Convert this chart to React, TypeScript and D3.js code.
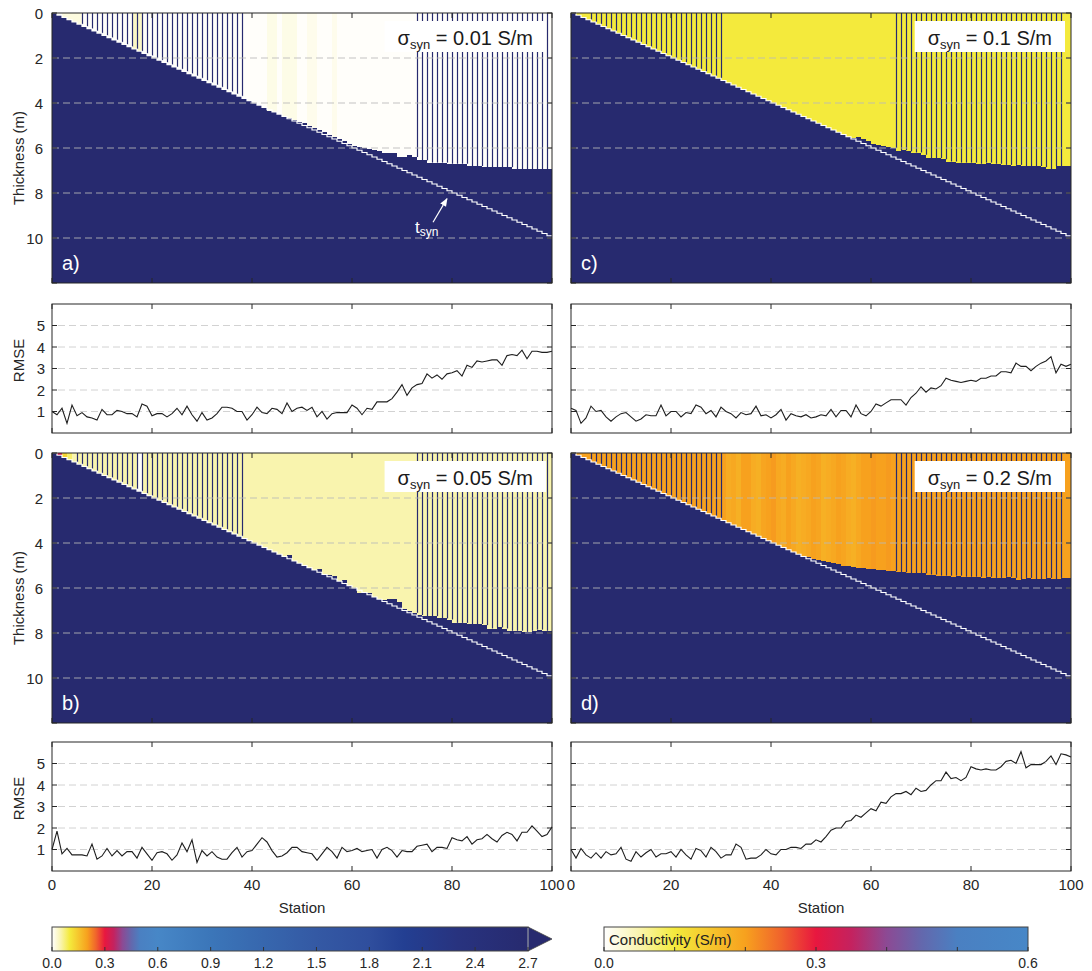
import { useEffect, useRef } from 'react';
import * as d3 from 'd3';

const FONT = '"Liberation Sans", Arial, Helvetica, sans-serif';
const NAVY = '#272a6f';
const INK = '#262626';

// conductivity colour map (S/m)
const cmapStops = [0, 0.05, 0.1, 0.2, 0.25, 0.3, 0.35, 0.4, 0.45, 0.5, 0.6, 0.9, 1.2, 1.5, 1.8, 2.0, 2.3, 2.7];
const cmapColors = ['#ffffff', '#f9f4ae', '#f4ea3c', '#f7a11e', '#f0642c', '#e8173f', '#c4225f', '#8c4a94',
  '#6368ad', '#4a80c2', '#4787c7', '#3b76b9', '#3767ae', '#3459a4', '#2f4e9d', '#233f92', '#28337f', '#272a6f'];

// synthetic layer thickness per station (m)
const tSyn = [
  0, 0.1, 0.2, 0.3, 0.4, 0.5, 0.6, 0.7, 0.8, 0.9,
  1, 1.1, 1.2, 1.3, 1.4, 1.5, 1.6, 1.7, 1.8, 1.9,
  2, 2.1, 2.2, 2.3, 2.4, 2.5, 2.6, 2.7, 2.8, 2.9,
  3, 3.1, 3.2, 3.3, 3.4, 3.5, 3.6, 3.7, 3.8, 3.9,
  4, 4.1, 4.2, 4.3, 4.4, 4.5, 4.6, 4.7, 4.8, 4.9,
  5, 5.1, 5.2, 5.3, 5.4, 5.5, 5.6, 5.7, 5.8, 5.9,
  6, 6.1, 6.2, 6.3, 6.4, 6.5, 6.6, 6.7, 6.8, 6.9,
  7, 7.1, 7.2, 7.3, 7.4, 7.5, 7.6, 7.7, 7.8, 7.9,
  8, 8.1, 8.2, 8.3, 8.4, 8.5, 8.6, 8.7, 8.8, 8.9,
  9, 9.1, 9.2, 9.3, 9.4, 9.5, 9.6, 9.7, 9.8, 9.9,
];

// inverted thickness of the top layer (m)
const thickA = [
  0, 0.1, 0.2, 0.3, 0.4, 0.5, 0.6, 0.7, 0.8, 0.9,
  1, 1.1, 1.2, 1.3, 1.4, 1.5, 1.6, 1.7, 1.8, 1.9,
  2, 2.1, 2.2, 2.3, 2.4, 2.5, 2.6, 2.7, 2.8, 2.9,
  3, 3.1, 3.2, 3.3, 3.4, 3.5, 3.6, 3.7, 3.8, 3.9,
  4, 4.1, 4.2, 4.35, 4.4, 4.5, 4.6, 4.65, 4.75, 4.85,
  4.9, 5, 5.1, 5.2, 5.3, 5.4, 5.5, 5.6, 5.7, 5.8,
  5.9, 5.95, 6, 6.05, 6.1, 6.15, 6.2, 6.2, 6.2, 6.4,
  6.4, 6.3, 6.4, 6.55, 6.55, 6.65, 6.65, 6.65, 6.65, 6.7,
  6.7, 6.7, 6.7, 6.8, 6.8, 6.8, 6.85, 6.85, 6.85, 6.85,
  6.85, 6.85, 6.95, 6.95, 6.95, 6.95, 6.95, 6.95, 6.95, 6.95,
];
const thickB = [
  0, 0.1, 0.2, 0.3, 0.4, 0.5, 0.6, 0.7, 0.8, 0.9,
  1, 1.1, 1.2, 1.3, 1.4, 1.5, 1.6, 1.7, 1.8, 1.9,
  2, 2.1, 2.2, 2.3, 2.4, 2.5, 2.6, 2.7, 2.8, 2.9,
  3, 3.1, 3.2, 3.3, 3.4, 3.5, 3.6, 3.7, 3.8, 3.9,
  4, 4.1, 4.2, 4.3, 4.4, 4.5, 4.6, 4.55, 4.8, 4.9,
  5, 5.1, 5.2, 5.15, 5.4, 5.4, 5.45, 5.7, 5.65, 5.9,
  6, 6.2, 6.2, 6.2, 6.4, 6.5, 6.55, 6.5, 6.5, 6.6,
  6.95, 7, 7.1, 7.2, 7.25, 7.25, 7.25, 7.35, 7.35, 7.4,
  7.55, 7.55, 7.55, 7.6, 7.6, 7.6, 7.65, 7.8, 7.8, 7.75,
  7.8, 7.9, 7.9, 7.9, 7.95, 7.95, 7.9, 7.85, 7.9, 7.9,
];
const thickC = [
  0, 0.1, 0.2, 0.3, 0.4, 0.5, 0.6, 0.7, 0.8, 0.9,
  1, 1.1, 1.2, 1.3, 1.4, 1.5, 1.6, 1.7, 1.8, 1.9,
  2, 2.1, 2.2, 2.3, 2.4, 2.5, 2.6, 2.7, 2.8, 2.9,
  3, 3.1, 3.2, 3.3, 3.4, 3.5, 3.6, 3.7, 3.8, 3.9,
  4, 4.1, 4.2, 4.3, 4.4, 4.5, 4.6, 4.7, 4.8, 4.9,
  5, 5.1, 5.2, 5.3, 5.4, 5.5, 5.55, 5.5, 5.6, 5.7,
  5.8, 5.85, 5.9, 5.95, 6, 6.15, 6.1, 6.15, 6.2, 6.2,
  6.3, 6.45, 6.45, 6.45, 6.5, 6.6, 6.6, 6.65, 6.65, 6.65,
  6.65, 6.7, 6.7, 6.65, 6.7, 6.7, 6.75, 6.75, 6.8, 6.75,
  6.8, 6.8, 6.8, 6.8, 6.85, 6.95, 6.95, 6.8, 6.8, 6.8,
];
const thickD = [
  0, 0.1, 0.2, 0.3, 0.4, 0.5, 0.6, 0.7, 0.8, 0.9,
  1, 1.1, 1.2, 1.3, 1.4, 1.5, 1.6, 1.7, 1.8, 1.9,
  2, 2.1, 2.2, 2.3, 2.4, 2.5, 2.6, 2.7, 2.8, 2.9,
  3, 3.1, 3.2, 3.3, 3.4, 3.5, 3.6, 3.7, 3.8, 3.9,
  4, 4.1, 4.2, 4.3, 4.4, 4.5, 4.6, 4.6, 4.7, 4.75,
  4.8, 4.85, 4.9, 4.95, 5, 5, 5.05, 5.1, 5.1, 5.15,
  5.15, 5.2, 5.2, 5.25, 5.25, 5.3, 5.3, 5.35, 5.35, 5.35,
  5.35, 5.4, 5.4, 5.45, 5.45, 5.45, 5.5, 5.45, 5.5, 5.5,
  5.5, 5.5, 5.55, 5.5, 5.55, 5.55, 5.55, 5.5, 5.55, 5.65,
  5.6, 5.55, 5.6, 5.6, 5.6, 5.55, 5.6, 5.6, 5.55, 5.55,
];

// inverted conductivity of the top layer (S/m)
const condA = [
  0.003, 0.003, 0.02, 0.02, 0.02, 0.02, 0.003, 0.003, 0.003, 0.003,
  0.003, 0.003, 0.003, 0.003, 0.003, 0.003, 0.035, 0.035, 0.003, 0.003,
  0.003, 0.003, 0.003, 0.003, 0.003, 0.003, 0.003, 0.003, 0.003, 0.003,
  0.003, 0.003, 0.003, 0.003, 0.003, 0.003, 0.003, 0.003, 0.003, 0.003,
  0.003, 0.003, 0.003, 0.015, 0.015, 0.003, 0.015, 0.015, 0.015, 0.003,
  0.003, 0.012, 0.012, 0.003, 0.003, 0.003, 0.012, 0.003, 0.003, 0.003,
  0.003, 0.003, 0.003, 0.003, 0.003, 0.003, 0.003, 0.003, 0.003, 0.003,
  0.003, 0.003, 0.003, 0.003, 0.003, 0.003, 0.003, 0.003, 0.003, 0.003,
  0.003, 0.003, 0.003, 0.003, 0.003, 0.003, 0.003, 0.003, 0.003, 0.003,
  0.003, 0.003, 0.003, 0.003, 0.003, 0.003, 0.003, 0.003, 0.003, 0.003,
];
const condB = [
  0.05, 0.32, 0.13, 0.08, 0.05, 0.05, 0.05, 0.05, 0.05, 0.05,
  0.05, 0.05, 0.05, 0.05, 0.05, 0.05, 0.05, 0.004, 0.05, 0.05,
  0.05, 0.05, 0.05, 0.05, 0.05, 0.05, 0.05, 0.05, 0.05, 0.05,
  0.05, 0.05, 0.05, 0.05, 0.05, 0.05, 0.05, 0.05, 0.05, 0.05,
  0.05, 0.05, 0.05, 0.05, 0.05, 0.05, 0.05, 0.05, 0.05, 0.05,
  0.05, 0.05, 0.05, 0.05, 0.05, 0.05, 0.05, 0.05, 0.05, 0.05,
  0.05, 0.05, 0.05, 0.05, 0.05, 0.05, 0.05, 0.05, 0.05, 0.05,
  0.05, 0.05, 0.05, 0.05, 0.05, 0.05, 0.05, 0.05, 0.05, 0.05,
  0.05, 0.05, 0.05, 0.05, 0.05, 0.05, 0.05, 0.05, 0.05, 0.05,
  0.05, 0.05, 0.05, 0.05, 0.05, 0.05, 0.05, 0.05, 0.05, 0.05,
];
const condC = [
  0.1, 0.1, 0.1, 0.1, 0.1, 0.1, 0.1, 0.1, 0.1, 0.1,
  0.1, 0.1, 0.1, 0.1, 0.1, 0.1, 0.1, 0.1, 0.1, 0.1,
  0.1, 0.1, 0.1, 0.1, 0.1, 0.1, 0.1, 0.1, 0.1, 0.1,
  0.1, 0.1, 0.1, 0.1, 0.1, 0.1, 0.1, 0.1, 0.1, 0.1,
  0.1, 0.1, 0.1, 0.1, 0.1, 0.1, 0.1, 0.1, 0.1, 0.1,
  0.1, 0.1, 0.1, 0.1, 0.1, 0.1, 0.1, 0.1, 0.1, 0.1,
  0.1, 0.1, 0.1, 0.1, 0.1, 0.1, 0.1, 0.1, 0.1, 0.1,
  0.1, 0.1, 0.1, 0.1, 0.1, 0.1, 0.1, 0.1, 0.1, 0.1,
  0.1, 0.1, 0.1, 0.1, 0.1, 0.1, 0.1, 0.1, 0.1, 0.1,
  0.1, 0.1, 0.1, 0.1, 0.1, 0.1, 0.1, 0.1, 0.1, 0.1,
];
const condD = [
  0.2, 0.2, 0.2, 0.2, 0.2, 0.2, 0.2, 0.2, 0.2, 0.2,
  0.2, 0.2, 0.2, 0.2, 0.2, 0.2, 0.2, 0.2, 0.2, 0.2,
  0.2, 0.2, 0.2, 0.2, 0.2, 0.2, 0.2, 0.2, 0.2, 0.2,
  0.2, 0.185, 0.19, 0.18, 0.2, 0.2, 0.185, 0.18, 0.195, 0.2,
  0.205, 0.19, 0.185, 0.2, 0.19, 0.18, 0.185, 0.19, 0.2, 0.195,
  0.18, 0.185, 0.19, 0.2, 0.195, 0.185, 0.18, 0.19, 0.2, 0.2,
  0.205, 0.2, 0.2, 0.205, 0.2, 0.2, 0.2, 0.2, 0.2, 0.2,
  0.2, 0.2, 0.2, 0.2, 0.2, 0.2, 0.2, 0.2, 0.2, 0.2,
  0.2, 0.2, 0.2, 0.2, 0.2, 0.2, 0.2, 0.2, 0.2, 0.2,
  0.2, 0.2, 0.2, 0.2, 0.2, 0.2, 0.2, 0.2, 0.2, 0.2,
];

// RMSE per station 0..100
const rmseA = [
  1.0, 0.85, 1.15, 0.45, 1.3, 0.8, 0.95, 0.75, 0.7, 0.6,
  1.1, 0.85, 0.85, 1.05, 1.0, 0.9, 0.9, 0.75, 1.35, 1.25,
  0.8, 0.9, 0.9, 0.75, 0.9, 1.15, 0.85, 1.25, 0.85, 0.55,
  0.95, 0.6, 0.7, 0.9, 1.2, 1.2, 1.15, 1.0, 1.0, 0.6,
  0.85, 1.2, 0.95, 0.9, 1.15, 1.1, 0.9, 1.4, 1.0, 1.15,
  1.2, 1.05, 1.2, 0.75, 1.0, 0.65, 0.9, 0.95, 0.95, 0.95,
  1.3, 1.15, 0.85, 1.15, 1.1, 1.45, 1.45, 1.45, 1.6, 1.9,
  2.25, 1.75, 2.1, 2.25, 2.3, 2.75, 2.55, 2.7, 2.5, 2.75,
  2.8, 2.9, 2.65, 3.15, 3.05, 3.35, 3.3, 3.35, 3.4, 3.4,
  3.15, 3.6, 3.65, 3.6, 3.85, 3.45, 3.8, 3.8, 3.75, 3.75,
  3.8,
];
const rmseB = [
  1.0, 1.85, 0.8, 1.05, 0.75, 0.75, 0.75, 0.7, 1.25, 0.55,
  0.7, 1.05, 0.7, 0.95, 0.7, 0.9, 0.9, 0.6, 1.1, 0.8,
  0.5, 0.85, 0.9, 0.8, 0.5, 0.75, 1.3, 0.9, 1.45, 0.4,
  0.95, 0.7, 0.9, 0.65, 0.55, 0.55, 0.85, 1.1, 0.65, 0.9,
  0.95, 1.25, 1.55, 1.35, 0.95, 0.65, 0.7, 0.85, 1.1, 1.1,
  0.9, 0.85, 0.8, 0.5, 0.8, 1.1, 0.9, 0.6, 1.1, 0.9,
  0.95, 1.05, 0.9, 0.95, 1.0, 0.6, 1.0, 1.1, 0.95, 0.65,
  0.95, 0.9, 0.9, 1.15, 1.2, 1.25, 0.9, 1.1, 1.1, 1.05,
  1.55, 1.45, 1.4, 1.6, 1.25, 1.45, 1.5, 1.7, 1.5, 1.35,
  1.65, 1.8, 1.7, 1.4, 1.8, 1.8, 2.1, 1.85, 1.6, 1.7,
  2.05,
];
const rmseC = [
  1.15, 1.05, 0.45, 0.7, 1.25, 1.0, 1.05, 0.75, 0.55, 0.75,
  0.9, 0.95, 0.75, 0.55, 0.65, 0.85, 0.8, 0.8, 1.3, 0.8,
  1.0, 1.0, 0.75, 0.95, 0.9, 1.3, 1.2, 0.9, 1.05, 0.75,
  1.2, 1.0, 0.9, 0.7, 0.95, 0.85, 0.9, 1.25, 0.8, 0.85,
  0.7, 0.85, 1.1, 0.6, 0.9, 0.8, 0.75, 0.85, 0.7, 0.75,
  0.85, 0.8, 1.1, 0.75, 1.05, 1.05, 0.75, 1.3, 0.9, 0.8,
  1.0, 1.35, 1.25, 1.4, 1.55, 1.55, 1.55, 1.3, 1.65, 1.85,
  2.15, 1.9, 2.1, 2.05, 2.2, 2.55, 2.45, 2.4, 2.35, 2.4,
  2.45, 2.4, 2.55, 2.55, 2.65, 2.65, 2.85, 2.85, 2.8, 3.25,
  3.1, 3.1, 2.9, 3.1, 3.25, 3.35, 3.55, 2.8, 3.2, 3.1,
  3.2,
];
const rmseD = [
  1.0, 0.6, 1.05, 0.75, 0.6, 0.85, 0.6, 0.9, 0.75, 0.8,
  1.1, 0.55, 0.45, 0.9, 0.65, 0.85, 1.0, 0.65, 0.8, 0.8,
  0.9, 0.65, 1.0, 0.75, 0.55, 1.05, 0.95, 0.65, 1.1, 0.9,
  0.6, 0.75, 0.75, 1.25, 1.1, 0.55, 0.6, 0.6, 0.75, 1.0,
  0.8, 0.75, 1.0, 1.0, 1.1, 1.1, 1.05, 1.25, 1.25, 1.45,
  1.35, 1.6, 1.9, 2.0, 2.0, 2.3, 2.35, 2.6, 2.5, 2.7,
  2.9, 2.8, 3.2, 3.15, 3.45, 3.6, 3.6, 3.7, 3.55, 3.85,
  3.7, 3.75, 4.0, 4.2, 4.2, 4.6, 4.3, 4.35, 4.2, 4.35,
  4.85, 4.75, 4.7, 4.75, 4.7, 4.7, 4.85, 5.1, 5.15, 5.0,
  5.55, 4.8, 4.95, 4.95, 4.95, 5.1, 5.35, 4.95, 5.45, 5.4,
  5.3,
];

const thicknessTicks = [0, 2, 4, 6, 8, 10];
const thicknessMinor = [0, 2, 4, 6, 8, 10, 12];
const rmseTicks = [1, 2, 3, 4, 5];
const stationTicks = [0, 20, 40, 60, 80, 100];
const cbMainTicks = [0, 0.3, 0.6, 0.9, 1.2, 1.5, 1.8, 2.1, 2.4, 2.7];
const cbZoomTicks = [0, 0.1, 0.2, 0.3, 0.4, 0.5, 0.6];
const cbZoomLabels = [0, 0.3, 0.6];

// layout
const LEFT = 52;
const RIGHT = 571;
const PW = 500;
const IMG_TOP = [13, 453];
const IMG_H = 270;
const RMSE_TOP = [304, 742];
const RMSE_H = 129;

const panels = [
  { key: 'a', x0: LEFT, row: 0, thick: thickA, cond: condA, rmse: rmseA, sigma: '0.01', gaps: [[6, 38], [73, 99]], yLabels: true },
  { key: 'b', x0: LEFT, row: 1, thick: thickB, cond: condB, rmse: rmseB, sigma: '0.05', gaps: [[5, 38], [73, 99]], yLabels: true },
  { key: 'c', x0: RIGHT, row: 0, thick: thickC, cond: condC, rmse: rmseC, sigma: '0.1', gaps: [[4, 30], [65, 98]], yLabels: false },
  { key: 'd', x0: RIGHT, row: 1, thick: thickD, cond: condD, rmse: rmseD, sigma: '0.2', gaps: [[4, 30], [65, 98]], yLabels: false },
];

const cmap = d3.scaleLinear<string>().domain(cmapStops).range(cmapColors).interpolate(d3.interpolateRgb).clamp(true);

function addTicks(g: any, x0: number, y0: number, w: number, h: number, xs: number[], ys: number[]) {
  xs.forEach(px => {
    g.append('line').attr('x1', px).attr('x2', px).attr('y1', y0).attr('y2', y0 + 5).attr('stroke', INK);
    g.append('line').attr('x1', px).attr('x2', px).attr('y1', y0 + h - 5).attr('y2', y0 + h).attr('stroke', INK);
  });
  ys.forEach(py => {
    g.append('line').attr('x1', x0).attr('x2', x0 + 5).attr('y1', py).attr('y2', py).attr('stroke', INK);
    g.append('line').attr('x1', x0 + w - 5).attr('x2', x0 + w).attr('y1', py).attr('y2', py).attr('stroke', INK);
  });
  g.append('rect').attr('x', x0).attr('y', y0).attr('width', w).attr('height', h)
    .attr('fill', 'none').attr('stroke', INK).attr('stroke-width', 1);
}

function drawSection(svg: any, p: any) {
  const y0 = IMG_TOP[p.row];
  const x = d3.scaleLinear().domain([0, 100]).range([p.x0, p.x0 + PW]);
  const y = d3.scaleLinear().domain([0, 12]).range([y0, y0 + IMG_H]);
  const g = svg.append('g');

  g.append('rect').attr('x', p.x0).attr('y', y0).attr('width', PW).attr('height', IMG_H).attr('fill', NAVY);

  g.selectAll('rect.layer').data(p.thick).join('rect')
    .attr('class', 'layer')
    .attr('x', (d: number, i: number) => x(i))
    .attr('y', y(0))
    .attr('width', x(1) - x(0))
    .attr('height', (d: number) => y(d) - y(0))
    .attr('fill', (d: number, i: number) => cmap(p.cond[i]))
    .attr('shape-rendering', 'crispEdges');

  // thin column seams
  p.gaps.forEach(([a, b]: number[]) => {
    d3.range(a, b + 1).forEach(i => {
      g.append('line')
        .attr('x1', x(i) + 0.5).attr('x2', x(i) + 0.5)
        .attr('y1', y(0)).attr('y2', y(Math.min(p.thick[i], p.thick[i - 1] ?? p.thick[i])))
        .attr('stroke', NAVY).attr('stroke-width', 1.2);
    });
  });

  // true thickness staircase
  let path = `M${x(0)},${y(tSyn[0])}`;
  tSyn.forEach((t, i) => { path += `V${y(t)}H${x(i + 1)}`; });
  g.append('path').attr('d', path).attr('fill', 'none').attr('stroke', '#ffffff').attr('stroke-width', 1.2);

  // dashed grid
  thicknessTicks.filter(t => t > 0).forEach(t => {
    g.append('line').attr('x1', p.x0).attr('x2', p.x0 + PW).attr('y1', y(t)).attr('y2', y(t))
      .attr('stroke', '#b8b8b8').attr('stroke-opacity', 0.85).attr('stroke-dasharray', '7,4');
  });

  addTicks(g, p.x0, y0, PW, IMG_H, stationTicks.map(s => x(s)), thicknessMinor.map(t => y(t)));

  if (p.yLabels) {
    thicknessTicks.forEach(t => {
      g.append('text').attr('x', p.x0 - 9).attr('y', y(t) + 5.5).attr('text-anchor', 'end')
        .attr('font-size', 15).attr('fill', INK).text(t);
    });
    g.append('text')
      .attr('transform', `translate(${p.x0 - 28},${y0 + IMG_H / 2 + 10}) rotate(-90)`)
      .attr('text-anchor', 'middle').attr('font-size', 15).attr('fill', INK).text('Thickness (m)');
  }

  g.append('text').attr('x', p.x0 + 10).attr('y', y0 + IMG_H - 13)
    .attr('font-size', 20).attr('fill', '#ffffff').text(`${p.key})`);

  // sigma box
  const lbl = g.append('text').attr('x', p.x0 + PW - 19).attr('y', y0 + 32)
    .attr('text-anchor', 'end').attr('font-size', 20).attr('fill', '#1a1a1a');
  lbl.append('tspan').text('σ');
  lbl.append('tspan').attr('font-size', 13).attr('dy', 4).text('syn');
  lbl.append('tspan').attr('dy', -4).text(` = ${p.sigma} S/m`);
  const bb = (lbl.node() as SVGTextElement).getBBox();
  g.insert('rect', () => lbl.node())
    .attr('x', bb.x - 13).attr('y', y0 + 8)
    .attr('width', p.x0 + PW - 6 - (bb.x - 13)).attr('height', 31)
    .attr('fill', '#ffffff');

  if (p.key === 'a') {
    const defs = svg.append('defs');
    defs.append('marker').attr('id', 'arrowW').attr('viewBox', '0 0 10 10')
      .attr('refX', 9).attr('refY', 5).attr('markerWidth', 7).attr('markerHeight', 7)
      .attr('orient', 'auto')
      .append('path').attr('d', 'M0,1 L10,5 L0,9 Z').attr('fill', '#ffffff');
    g.append('line')
      .attr('x1', x(76.2)).attr('y1', y(9.3)).attr('x2', x(79)).attr('y2', y(8.25))
      .attr('stroke', '#ffffff').attr('stroke-width', 1.2).attr('marker-end', 'url(#arrowW)');
    const tl = g.append('text').attr('x', x(72.6)).attr('y', y(9.78))
      .attr('font-size', 17).attr('fill', '#ffffff');
    tl.append('tspan').text('t');
    tl.append('tspan').attr('font-size', 12).attr('dy', 3).text('syn');
  }
}

function drawRmse(svg: any, p: any) {
  const y0 = RMSE_TOP[p.row];
  const x = d3.scaleLinear().domain([0, 100]).range([p.x0, p.x0 + PW]);
  const y = d3.scaleLinear().domain([0, 6]).range([y0 + RMSE_H, y0]);
  const g = svg.append('g');

  g.append('rect').attr('x', p.x0).attr('y', y0).attr('width', PW).attr('height', RMSE_H).attr('fill', '#ffffff');
  rmseTicks.forEach(t => {
    g.append('line').attr('x1', p.x0 + 6).attr('x2', p.x0 + PW).attr('y1', y(t)).attr('y2', y(t))
      .attr('stroke', '#d2d2d2').attr('stroke-dasharray', '7,4');
  });

  const line = d3.line<number>().x((d, i) => x(i)).y(d => y(d));
  g.append('path').attr('d', line(p.rmse)).attr('fill', 'none').attr('stroke', '#1e1e1e').attr('stroke-width', 1.1);

  addTicks(g, p.x0, y0, PW, RMSE_H, stationTicks.map(s => x(s)), rmseTicks.map(t => y(t)));

  if (p.yLabels) {
    rmseTicks.forEach(t => {
      g.append('text').attr('x', p.x0 - 7).attr('y', y(t) + 5.5).attr('text-anchor', 'end')
        .attr('font-size', 15).attr('fill', INK).text(t);
    });
    g.append('text')
      .attr('transform', `translate(${p.x0 - 28},${y0 + RMSE_H / 2 - 8}) rotate(-90)`)
      .attr('text-anchor', 'middle').attr('font-size', 15).attr('fill', INK).text('RMSE');
  }
  if (p.row === 1) {
    stationTicks.forEach(s => {
      g.append('text').attr('x', x(s)).attr('y', y0 + RMSE_H + 19).attr('text-anchor', 'middle')
        .attr('font-size', 15).attr('fill', INK).text(s);
    });
    g.append('text').attr('x', p.x0 + PW / 2).attr('y', y0 + RMSE_H + 42).attr('text-anchor', 'middle')
      .attr('font-size', 15).attr('fill', INK).text('Station');
  }
}

function drawColorbar(svg: any, id: string, x0: number, x1: number, maxV: number, ticks: number[], labels: number[], arrow: boolean) {
  const yTop = 927;
  const hh = 24;
  const s = d3.scaleLinear().domain([0, maxV]).range([x0, x1]);
  const defs = svg.append('defs');
  const grad = defs.append('linearGradient').attr('id', id).attr('x1', '0%').attr('x2', '100%');
  cmapStops.filter(v => v <= maxV + 1e-9).forEach(v => {
    grad.append('stop').attr('offset', `${(v / maxV) * 100}%`).attr('stop-color', cmap(v));
  });
  const g = svg.append('g');
  if (arrow) {
    g.append('path').attr('d', `M${x1},${yTop}L${x1 + 24},${yTop + hh / 2}L${x1},${yTop + hh}Z`)
      .attr('fill', NAVY).attr('stroke', '#444').attr('stroke-width', 0.8);
  }
  g.append('rect').attr('x', x0).attr('y', yTop).attr('width', x1 - x0).attr('height', hh)
    .attr('fill', `url(#${id})`).attr('stroke', '#444').attr('stroke-width', 1);
  if (arrow) {
    g.append('line').attr('x1', x1).attr('x2', x1).attr('y1', yTop + 1).attr('y2', yTop + hh - 1)
      .attr('stroke', '#9aa0c8').attr('stroke-width', 1);
  }
  ticks.forEach(v => {
    g.append('line').attr('x1', s(v)).attr('x2', s(v)).attr('y1', yTop + hh - 4).attr('y2', yTop + hh)
      .attr('stroke', '#333');
  });
  labels.forEach(v => {
    g.append('text').attr('x', s(v)).attr('y', yTop + hh + 17).attr('text-anchor', 'middle')
      .attr('font-size', 14).attr('fill', INK).text(v.toFixed(1));
  });
  return { g, s };
}

export default function App() {
  const ref = useRef<SVGSVGElement | null>(null);

  useEffect(() => {
    document.body.style.margin = '0';
    const svg = d3.select(ref.current);
    svg.selectAll('*').remove();
    svg.attr('width', 1092).attr('height', 971).style('font-family', FONT);

    svg.append('rect').attr('width', 1092).attr('height', 971).attr('fill', '#ffffff');

    panels.forEach(p => {
      drawSection(svg, p);
      drawRmse(svg, p);
    });

    drawColorbar(svg, 'cbMain', 52, 528, 2.7, cbMainTicks, cbMainTicks, true);
    const zoomBar = drawColorbar(svg, 'cbZoom', 604, 1028, 0.6, cbZoomTicks, cbZoomLabels, false);
    zoomBar.g.append('text').attr('x', 609).attr('y', 945).attr('font-size', 15).attr('fill', '#222')
      .text('Conductivity (S/m)');
  }, []);

  return (
    <div>
      <svg ref={ref} style={{ display: 'block', position: 'absolute', left: 0, top: 0 }} />
    </div>
  );
}
